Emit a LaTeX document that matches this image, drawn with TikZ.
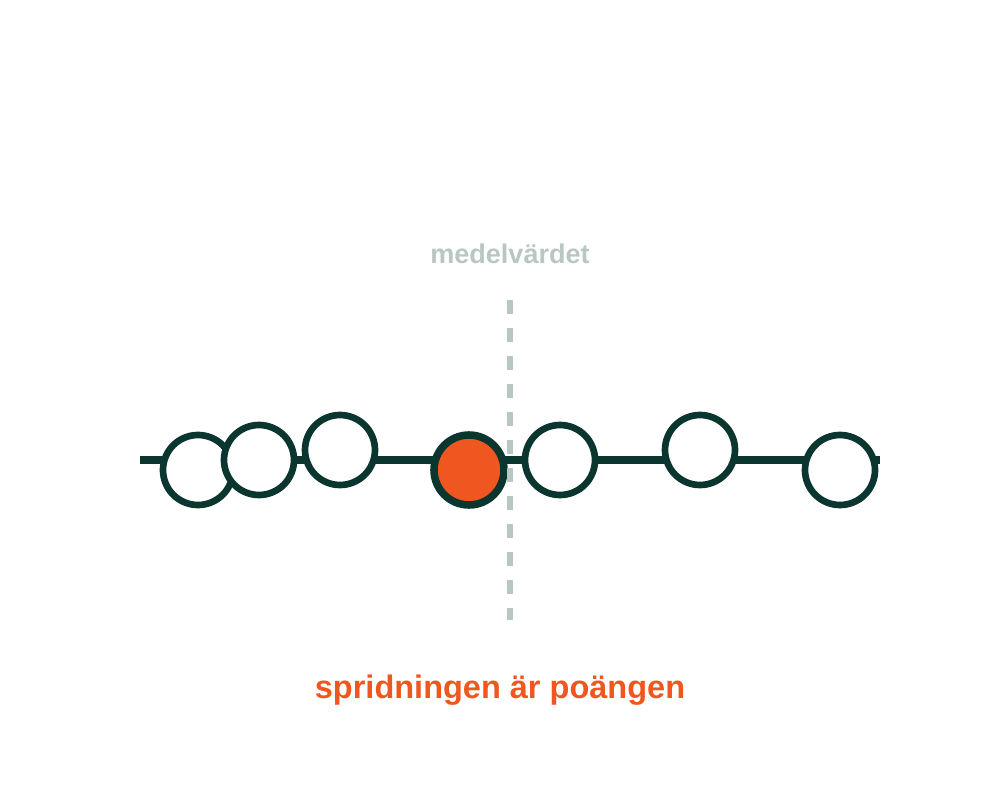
\documentclass[tikz,border=0pt]{standalone}
\usepackage{fontspec}
\setmainfont{Liberation Sans}
\definecolor{dk}{HTML}{0B3630}
\definecolor{org}{HTML}{F0561F}
\definecolor{gry}{HTML}{B9C7C3}
\begin{document}
\begin{tikzpicture}[x=0.02cm,y=-0.02cm,
  dot/.style={circle,draw=dk,line width=3.8pt,fill=white,minimum size=70*0.02cm,inner sep=0pt},
  hot/.style={dot,fill=org,line width=4.3pt},
  axis/.style={draw=dk,line width=4pt},
  mean/.style={draw=gry,line width=3.4pt,dash pattern=on 14*0.02cm off 14*0.02cm},
  lbl/.style={font=\bfseries,inner sep=0pt}]
\useasboundingbox (0,0) rectangle (1000,800);
\coordinate (L) at (140,460);
\coordinate (R) at (880,460);
\draw[axis] (L) -- (R);
\node[dot] (c1) at (198,470) {};
\node[dot] (c2) at (259,460) {};
\node[dot] (c3) at (340,450) {};
\node[hot] (c4) at (469,470) {};
\node[dot] (c5) at (560,460) {};
\node[dot] (c6) at (700,450) {};
\node[dot] (c7) at (840,470) {};
\coordinate (T) at (510,300);
\coordinate (B) at (510,620);
\draw[mean] (T) -- (B);
\node[lbl,text=gry,font=\bfseries\fontsize{15.4}{18}\selectfont] (m) at (510,254) {medelvärdet};
\node[lbl,text=org,font=\bfseries\fontsize{18.5}{22}\selectfont] (s) at (500,690) {spridningen är poängen};
\end{tikzpicture}
\end{document}
